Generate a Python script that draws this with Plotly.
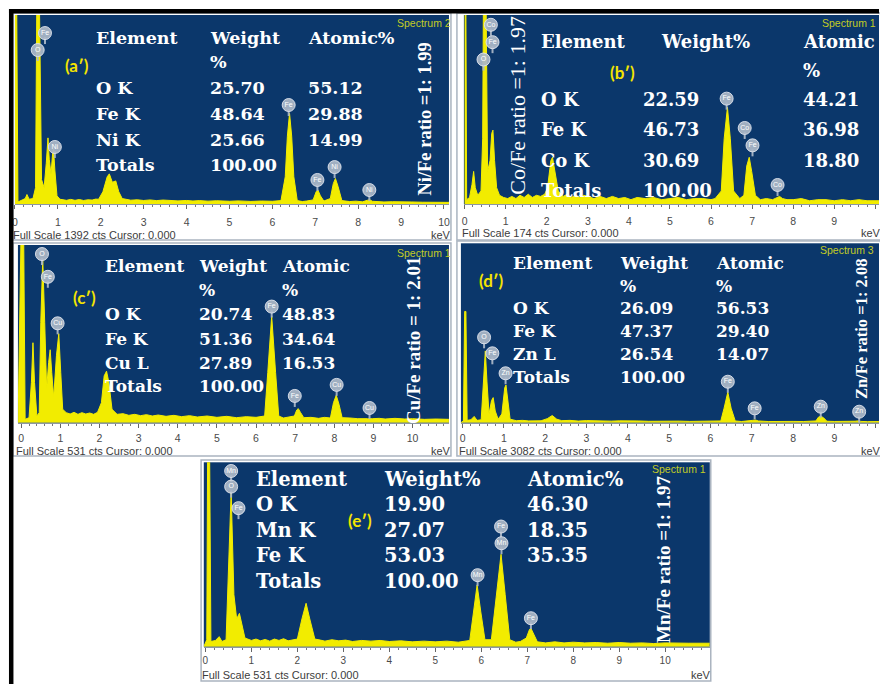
import plotly.graph_objects as go

# ---------------------------------------------------------------- data
# EDX spectra: energy (keV) and counts (cts) for each sample
ENERGY_A = [0.00, 0.04, 0.07, 0.15, 0.24, 0.28, 0.33, 0.42, 0.48, 0.51, 0.57, 0.62, 0.68, 0.73, 0.77, 0.80,
            0.84, 0.88, 0.90, 0.93, 0.98, 1.05, 1.12, 1.2, 1.3, 1.4, 1.5, 1.6, 1.7, 1.8, 1.88, 1.95, 2.05,
            2.15, 2.2, 2.27, 2.35, 2.42, 2.5, 2.6, 2.7, 2.85, 3.0, 3.15, 3.3, 3.45, 3.6, 3.8, 4.0, 4.15,
            4.3, 4.5, 4.7, 5.0, 5.2, 5.5, 5.75, 6.0, 6.2, 6.3, 6.35, 6.4, 6.45, 6.5, 6.58, 6.7, 6.8, 6.95,
            7.02, 7.06, 7.12, 7.2, 7.35, 7.42, 7.47, 7.53, 7.62, 7.8, 7.95, 8.1, 8.22, 8.27, 8.33, 8.45,
            8.6, 8.8, 9.0, 9.25, 9.5, 9.75, 10.12]
COUNTS_A = [1500, 1500, 15, 25, 40, 70, 35, 40, 120, 1500, 1500, 180, 120, 300, 487, 330,
            220, 380, 404, 250, 60, 35, 30, 27, 34, 27, 33, 26, 31, 29, 36, 35, 90,
            200, 222, 160, 170, 90, 40, 33, 28, 31, 26, 30, 25, 29, 27, 23, 26, 22,
            25, 21, 24, 20, 23, 19, 22, 20, 25, 200, 500, 668, 500, 200, 25, 18, 22, 30,
            90, 104, 60, 22, 40, 150, 188, 130, 25, 18, 21, 16, 28, 32, 20, 17,
            15, 17, 14, 15, 13, 14, 12]

ENERGY_B = [0.00, 0.03, 0.05, 0.12, 0.18, 0.22, 0.26, 0.32, 0.40, 0.44, 0.46, 0.52, 0.56, 0.62, 0.66, 0.69,
            0.73, 0.78, 0.85, 0.95, 1.05, 1.15, 1.25, 1.35, 1.45, 1.55, 1.65, 1.75, 1.85, 1.95, 2.02, 2.1,
            2.14, 2.2, 2.28, 2.4, 2.5, 2.6, 2.7, 2.8, 2.9, 3.0, 3.15, 3.3, 3.45, 3.6, 3.75, 3.9, 4.05, 4.2,
            4.4, 4.6, 4.8, 5.0, 5.2, 5.4, 5.6, 5.8, 6.0, 6.1, 6.25, 6.32, 6.4, 6.47, 6.55, 6.7, 6.8, 6.87,
            6.93, 6.99, 7.08, 7.2, 7.35, 7.5, 7.6, 7.67, 7.74, 7.85, 8.0, 8.2, 8.4, 8.6, 8.8, 9.0, 9.2,
            9.4, 9.6, 9.8, 10.1]
COUNTS_B = [200, 200, 4, 6, 18, 30, 15, 8, 12, 60, 200, 200, 30, 40, 65, 68,
            40, 15, 8, 6, 5, 7, 5, 8, 6, 9, 6, 8, 7, 9, 15, 40,
            43, 30, 12, 7, 9, 6, 8, 6, 8, 7, 5, 7, 5, 7, 5, 6, 4, 6,
            5, 6, 4, 5, 6, 4, 5, 5, 4, 5, 12, 60, 89, 60, 12, 5, 8, 35,
            43, 30, 8, 4, 5, 4, 6, 7, 5, 4, 4, 5, 3, 4, 4, 3, 4,
            3, 4, 3, 3]

ENERGY_C = [-0.08, 0.00, 0.06, 0.10, 0.20, 0.26, 0.30, 0.34, 0.40, 0.46, 0.50, 0.55, 0.60, 0.65, 0.70, 0.74,
            0.78, 0.83, 0.90, 0.96, 1.01, 1.06, 1.15, 1.25, 1.35, 1.45, 1.55, 1.65, 1.75, 1.85, 1.95, 2.05,
            2.12, 2.18, 2.24, 2.32, 2.45, 2.6, 2.75, 2.9, 3.05, 3.2, 3.35, 3.5, 3.7, 3.9, 4.1, 4.3, 4.5,
            4.75, 5.0, 5.25, 5.5, 5.75, 6.0, 6.22, 6.3, 6.4, 6.5, 6.58, 6.7, 6.85, 6.98, 7.04, 7.08, 7.14,
            7.22, 7.4, 7.6, 7.75, 7.9, 7.98, 8.05, 8.12, 8.2, 8.4, 8.6, 8.85, 8.91, 8.97, 9.15, 9.3, 9.55,
            9.8, 10.0, 10.3, 10.6, 10.93]
COUNTS_C = [0, 600, 600, 10, 15, 120, 239, 120, 20, 30, 300, 490, 300, 100, 180, 218,
            150, 75, 200, 266, 150, 40, 30, 26, 31, 25, 30, 26, 29, 25, 31, 60,
            140, 154, 120, 40, 25, 27, 22, 25, 21, 24, 20, 23, 19, 22, 18, 21, 17,
            20, 16, 19, 15, 18, 16, 20, 150, 319, 150, 20, 14, 17, 20, 38, 42, 30,
            15, 16, 13, 16, 14, 60, 82, 55, 15, 14, 12, 12, 13, 12, 13, 11, 13,
            11, 12, 10, 11, 10]

ENERGY_D = [-0.04, 0.02, 0.05, 0.08, 0.11, 0.20, 0.28, 0.35, 0.45, 0.51, 0.55, 0.59, 0.64, 0.70, 0.74, 0.79,
            0.86, 0.95, 1.02, 1.05, 1.09, 1.15, 1.3, 1.45, 1.6, 1.75, 1.9, 2.05, 2.17, 2.28, 2.4, 2.6, 2.8,
            3.0, 3.2, 3.4, 3.6, 3.8, 4.0, 4.25, 4.5, 4.75, 5.0, 5.25, 5.5, 5.75, 6.0, 6.25, 6.33, 6.42, 6.5,
            6.6, 6.75, 6.9, 7.02, 7.09, 7.16, 7.4, 7.6, 7.8, 8.0, 8.25, 8.55, 8.62, 8.67, 8.73, 8.82, 9.0,
            9.2, 9.4, 9.5, 9.57, 9.64, 9.8, 10.08]
COUNTS_D = [0, 30, 1911, 1911, 40, 50, 108, 40, 50, 700, 1233, 700, 150, 380, 431, 200,
            60, 150, 600, 647, 400, 60, 35, 40, 31, 38, 33, 70, 123, 60, 35, 40, 28,
            36, 30, 34, 27, 32, 26, 30, 24, 28, 23, 27, 22, 25, 22, 30, 250, 524, 250,
            30, 20, 24, 40, 46, 30, 20, 24, 19, 22, 20, 30, 100, 108, 90, 25, 21,
            18, 22, 25, 31, 22, 18, 20]

ENERGY_E = [-0.035, 0.03, 0.05, 0.09, 0.12, 0.22, 0.30, 0.36, 0.45, 0.51, 0.56, 0.62, 0.68, 0.74, 0.80, 0.86,
            1.0, 1.1, 1.2, 1.3, 1.4, 1.5, 1.6, 1.7, 1.8, 1.9, 2.0, 2.1, 2.19, 2.27, 2.38, 2.5, 2.6, 2.75,
            2.9, 3.05, 3.2, 3.4, 3.6, 3.8, 4.0, 4.25, 4.5, 4.75, 5.0, 5.25, 5.5, 5.75, 5.83, 5.91, 5.99,
            6.08, 6.22, 6.33, 6.43, 6.52, 6.62, 6.75, 6.85, 6.98, 7.05, 7.08, 7.14, 7.22, 7.4, 7.6, 7.8,
            8.0, 8.25, 8.5, 8.75, 9.0, 9.25, 9.5, 9.75, 10.0, 10.5, 10.97]
COUNTS_E = [0, 20, 600, 600, 15, 18, 29, 15, 20, 250, 446, 150, 80, 96, 60, 25,
            18, 22, 17, 21, 16, 22, 18, 23, 17, 20, 22, 80, 125, 80, 22, 19, 16, 20,
            17, 19, 15, 18, 16, 18, 15, 17, 14, 16, 14, 16, 13, 18, 100, 178, 100,
            20, 20, 150, 266, 150, 20, 13, 15, 25, 50, 53, 35, 14, 11, 14, 11,
            13, 11, 12, 10, 12, 10, 11, 9, 11, 10, 10]

FULL_SCALE = [1392, 174, 531, 3082, 531]
SPECTRUM_NAMES = ["Spectrum 2", "Spectrum 1", "Spectrum 1", "Spectrum 3", "Spectrum 1"]
PANEL_LETTERS = ["(a′)", "(b′)", "(c′)", "(d′)", "(e′)"]
RATIO_TEXT = ["Ni/Fe ratio =1: 1.99", "Co/Fe ratio =1: 1.97", "Cu/Fe ratio = 1: 2.01",
              "Zn/Fe ratio =1: 2.08", "Mn/Fe ratio =1: 1.97"]

# peak identification markers: element, energy (keV), height (cts)
PEAK_EL_A = ["Fe", "O", "Ni", "Fe", "Fe", "Ni", "Ni"]
PEAK_KEV_A = [0.70, 0.53, 0.93, 6.38, 7.05, 7.45, 8.26]
PEAK_CTS_A = [1259, 1134, 420, 729, 177, 272, 103]

PEAK_EL_B = ["Co", "Fe", "O", "Fe", "Co", "Fe", "Co"]
PEAK_KEV_B = [0.64, 0.68, 0.46, 6.38, 6.82, 7.01, 7.62]
PEAK_CTS_B = [165, 149, 133, 97, 70, 54, 17.5]

PEAK_EL_C = ["O", "Fe", "Cu", "Fe", "Fe", "Cu", "Cu"]
PEAK_KEV_C = [0.53, 0.68, 0.93, 6.40, 6.99, 8.06, 8.90]
PEAK_CTS_C = [504, 436, 297, 347, 80, 113, 44]

PEAK_EL_D = ["O", "Fe", "Zn", "Fe", "Fe", "Zn", "Zn"]
PEAK_KEV_D = [0.52, 0.72, 1.04, 6.42, 7.07, 8.67, 9.60]
PEAK_CTS_D = [1467, 1192, 849, 704, 247, 275, 189]

PEAK_EL_E = ["Mn", "O", "Fe", "Fe", "Mn", "Mn", "Fe"]
PEAK_KEV_E = [0.56, 0.56, 0.72, 6.43, 6.44, 5.92, 7.08]
PEAK_CTS_E = [506, 461, 399, 346, 298, 206, 82]

# quantification tables
TABLE_HEAD_A = ["Element", "Weight", "Atomic%"]
TABLE_UNIT_A = ["", "%", ""]
TABLE_ROWS_A = [["O K", "25.70", "55.12"], ["Fe K", "48.64", "29.88"],
                ["Ni K", "25.66", "14.99"], ["Totals", "100.00", ""]]

TABLE_HEAD_B = ["Element", "Weight%", "Atomic"]
TABLE_UNIT_B = ["", "", "%"]
TABLE_ROWS_B = [["O K", "22.59", "44.21"], ["Fe K", "46.73", "36.98"],
                ["Co K", "30.69", "18.80"], ["Totals", "100.00", ""]]

TABLE_HEAD_C = ["Element", "Weight", "Atomic"]
TABLE_UNIT_C = ["", "%", "%"]
TABLE_ROWS_C = [["O K", "20.74", "48.83"], ["Fe K", "51.36", "34.64"],
                ["Cu L", "27.89", "16.53"], ["Totals", "100.00", ""]]

TABLE_HEAD_D = ["Element", "Weight", "Atomic"]
TABLE_UNIT_D = ["", "%", "%"]
TABLE_ROWS_D = [["O K", "26.09", "56.53"], ["Fe K", "47.37", "29.40"],
                ["Zn L", "26.54", "14.07"], ["Totals", "100.00", ""]]

TABLE_HEAD_E = ["Element", "Weight%", "Atomic%"]
TABLE_UNIT_E = None
TABLE_ROWS_E = [["O K", "19.90", "46.30"], ["Mn K", "27.07", "18.35"],
                ["Fe K", "53.03", "35.35"], ["Totals", "100.00", ""]]

X_TICKS = list(range(0, 11))

# ---------------------------------------------------------------- style / geometry
W, H = 880, 684
NAVY = "#0b376b"
YELLOW = "#f2ec00"
LABEL_YELLOW = "#f4e400"
SPEC_GREEN = "#c3cc25"
BOX = "#aab4c0"
BADGE = "rgba(172,184,200,0.93)"
SERIF = "DejaVu Serif"
TIMES = "Liberation Serif"
SANS = "Liberation Sans"
PAD = 4  # annotation box padding, subtracted from left-anchored x


def px(x):
    return x / W


def py(y):
    return 1 - y / H


# plot area (left, right, top, bottom in px) and energy range of each panel
PANELS = [
    dict(l=12, r=448, t=15, b=204, rng=[0, 10.116], standoff=4, tick_size=10.5,
         box=(10, 450, 13, 240), foot_y=235, kev_x=448, kev_anchor="right",
         spec=(448, 23, "right"), letter=(74, 65, 17),
         ratio=(424, 119.5, 18.5, True),
         head_x=[95, 210, 308], col_x=[95, 210, 308],
         rows_y=[38, 62, 88, 114, 140, 165], font=17.5),
    dict(l=463, r=880, t=15, b=204, rng=[-0.017, 10.09], standoff=3, tick_size=10.5,
         box=(456, 882, 13, 240), foot_y=233, kev_x=880, kev_anchor="right",
         spec=(825, 23, "left"), letter=(622, 72, 17),
         ratio=(516, 105, 22, False),
         head_x=[542, 663, 806], col_x=[542, 645, 806],
         rows_y=[42, 70, 100, 130, 160, 190], font=18),
    dict(l=15, r=448, t=245, b=422.7, rng=[-0.084, 10.93], standoff=2, tick_size=10.5,
         box=(10, 450, 243, 456), foot_y=451, kev_x=448, kev_anchor="right",
         spec=(448, 253, "right"), letter=(82, 298, 17),
         ratio=(413, 340, 19, True),
         head_x=[104, 199, 282], col_x=[104, 199, 282],
         rows_y=[266, 290, 314, 339, 363, 386], font=17),
    dict(l=460, r=880, t=243.3, b=422.7, rng=[-0.041, 10.08], standoff=2, tick_size=10.5,
         box=(456, 882, 241, 456), foot_y=451, kev_x=880, kev_anchor="right",
         spec=(823, 250, "left"), letter=(491, 280, 17),
         ratio=(862, 329, 16.5, True),
         head_x=[514, 622, 718], col_x=[514, 622, 718],
         rows_y=[263, 286, 308, 331, 354, 377], font=17),
    dict(l=201.7, r=710, t=462.3, b=646.7, rng=[-0.035, 10.97], standoff=0, tick_size=10,
         box=(199, 711, 460, 681), foot_y=674.5, kev_x=709, kev_anchor="right",
         spec=(704, 469, "right"), letter=(359, 520, 17),
         ratio=(663, 559, 19, True),
         head_x=[256, 385, 528], col_x=[256, 385, 528],
         rows_y=[479, 504, 530, 555, 581], font=19.5),
]

SPECTRA = [(ENERGY_A, COUNTS_A), (ENERGY_B, COUNTS_B), (ENERGY_C, COUNTS_C),
           (ENERGY_D, COUNTS_D), (ENERGY_E, COUNTS_E)]
PEAKS = [(PEAK_EL_A, PEAK_KEV_A, PEAK_CTS_A), (PEAK_EL_B, PEAK_KEV_B, PEAK_CTS_B),
         (PEAK_EL_C, PEAK_KEV_C, PEAK_CTS_C), (PEAK_EL_D, PEAK_KEV_D, PEAK_CTS_D),
         (PEAK_EL_E, PEAK_KEV_E, PEAK_CTS_E)]
TABLES = [(TABLE_HEAD_A, TABLE_UNIT_A, TABLE_ROWS_A), (TABLE_HEAD_B, TABLE_UNIT_B, TABLE_ROWS_B),
          (TABLE_HEAD_C, TABLE_UNIT_C, TABLE_ROWS_C), (TABLE_HEAD_D, TABLE_UNIT_D, TABLE_ROWS_D),
          (TABLE_HEAD_E, TABLE_UNIT_E, TABLE_ROWS_E)]

fig = go.Figure()
layout = dict(
    width=W, height=H, margin=dict(l=0, r=0, t=0, b=0),
    paper_bgcolor="white", plot_bgcolor=NAVY, showlegend=False,
)
shapes = []
annotations = []


def text_at(txt, x, y, font, xanchor="left", **kw):
    if xanchor == "left":
        x -= PAD
    elif xanchor == "right":
        x += PAD
    annotations.append(dict(text=txt, x=px(x), y=py(y), xref="paper", yref="paper",
                            xanchor=xanchor, yanchor="middle", showarrow=False,
                            font=font, **kw))


for i, p in enumerate(PANELS):
    n = "" if i == 0 else str(i + 1)
    xa, ya = "x" + n, "y" + n
    energy, counts = SPECTRA[i]
    fs = FULL_SCALE[i]

    # spectrum as a filled yellow trace
    fig.add_trace(go.Scatter(
        x=energy, y=counts, mode="lines", xaxis=xa, yaxis=ya,
        line=dict(color=YELLOW, width=1), fill="tozeroy", fillcolor=YELLOW,
        hoverinfo="skip"))

    # peak identification badges with a short pin underneath
    els, kev, cts = PEAKS[i]
    pin_offset = 7.5 / (p["b"] - p["t"]) * fs
    fig.add_trace(go.Scatter(
        x=kev, y=[c - pin_offset for c in cts], mode="markers", xaxis=xa, yaxis=ya,
        cliponaxis=False, hoverinfo="skip",
        marker=dict(symbol="line-ns", size=5, line=dict(width=2, color=BADGE))))
    fig.add_trace(go.Scatter(
        x=kev, y=cts, mode="markers+text", xaxis=xa, yaxis=ya, text=els,
        textposition="middle center", cliponaxis=False,
        textfont=dict(family=SANS, size=7, color="white"),
        marker=dict(size=13, color=BADGE,
                    line=dict(width=1, color="rgba(225,230,238,0.9)")),
        hoverinfo="skip"))

    layout["xaxis" + n] = dict(
        domain=[px(p["l"]), px(p["r"])], range=p["rng"], anchor=ya,
        tickvals=X_TICKS, ticks="outside", ticklen=4, tickcolor="#666",
        ticklabelstandoff=p["standoff"],
        tickfont=dict(family=SANS, size=p["tick_size"], color="#4a4a4a"),
        showline=True, linecolor="#8c97a5", linewidth=1,
        showgrid=False, zeroline=False, fixedrange=True,
        minor=dict(dtick=0.2, ticks="outside", ticklen=2, tickcolor="#777"),
    )
    layout["yaxis" + n] = dict(
        domain=[py(p["b"]), py(p["t"])], range=[0, fs], anchor=xa,
        showticklabels=False, showgrid=False, zeroline=False, ticks="",
        fixedrange=True,
    )

    # panel frame
    bl, br, bt, bb = p["box"]
    shapes.append(dict(type="rect", xref="paper", yref="paper",
                       x0=px(bl), x1=px(br), y0=py(bb), y1=py(bt),
                       line=dict(color=BOX, width=1.5), layer="below"))

    # footer line
    foot_font = dict(family=SANS, size=11, color="#3c3c3c")
    text_at(f"Full Scale {fs} cts Cursor: 0.000", p["l"], p["foot_y"], foot_font)
    text_at("keV", p["kev_x"], p["foot_y"], foot_font, xanchor=p["kev_anchor"])

    # spectrum name
    sx, sy, sa = p["spec"]
    text_at(SPECTRUM_NAMES[i], sx, sy, dict(family=SANS, size=10.5, color=SPEC_GREEN), xanchor=sa)

    # panel letter
    lx, ly, ls = p["letter"]
    text_at(PANEL_LETTERS[i], lx, ly, dict(family="Lato", size=ls, color=LABEL_YELLOW, weight="bold"),
            xanchor="center")

    # ratio text, vertical
    rx, ry, rs, rbold = p["ratio"]
    text_at(RATIO_TEXT[i], rx, ry,
            dict(family=TIMES, size=rs, color="white", weight="bold" if rbold else "normal"),
            xanchor="center", textangle=-90)

    # quantification table
    head, unit, rows = TABLES[i]
    tf = dict(family=SERIF, size=p["font"], color="white", weight="bold")
    ys = p["rows_y"]
    for c, txt in enumerate(head):
        text_at(txt, p["head_x"][c], ys[0], tf)
    k = 1
    if unit is not None:
        for c, txt in enumerate(unit):
            if txt:
                text_at(txt, p["col_x"][c], ys[1], tf)
        k = 2
    for r, row in enumerate(rows):
        for c, txt in enumerate(row):
            if txt:
                text_at(txt, p["col_x"][c], ys[k + r], tf)

# outer black frame (left and top)
shapes.append(dict(type="rect", xref="paper", yref="paper", x0=px(6), x1=px(10.5),
                   y0=0, y1=py(9), fillcolor="black", line=dict(width=0)))
shapes.append(dict(type="rect", xref="paper", yref="paper", x0=px(6), x1=1,
                   y0=py(13.5), y1=py(9), fillcolor="black", line=dict(width=0)))

layout["shapes"] = shapes
layout["annotations"] = annotations
fig.update_layout(**layout)
fig.write_html("out.html")
